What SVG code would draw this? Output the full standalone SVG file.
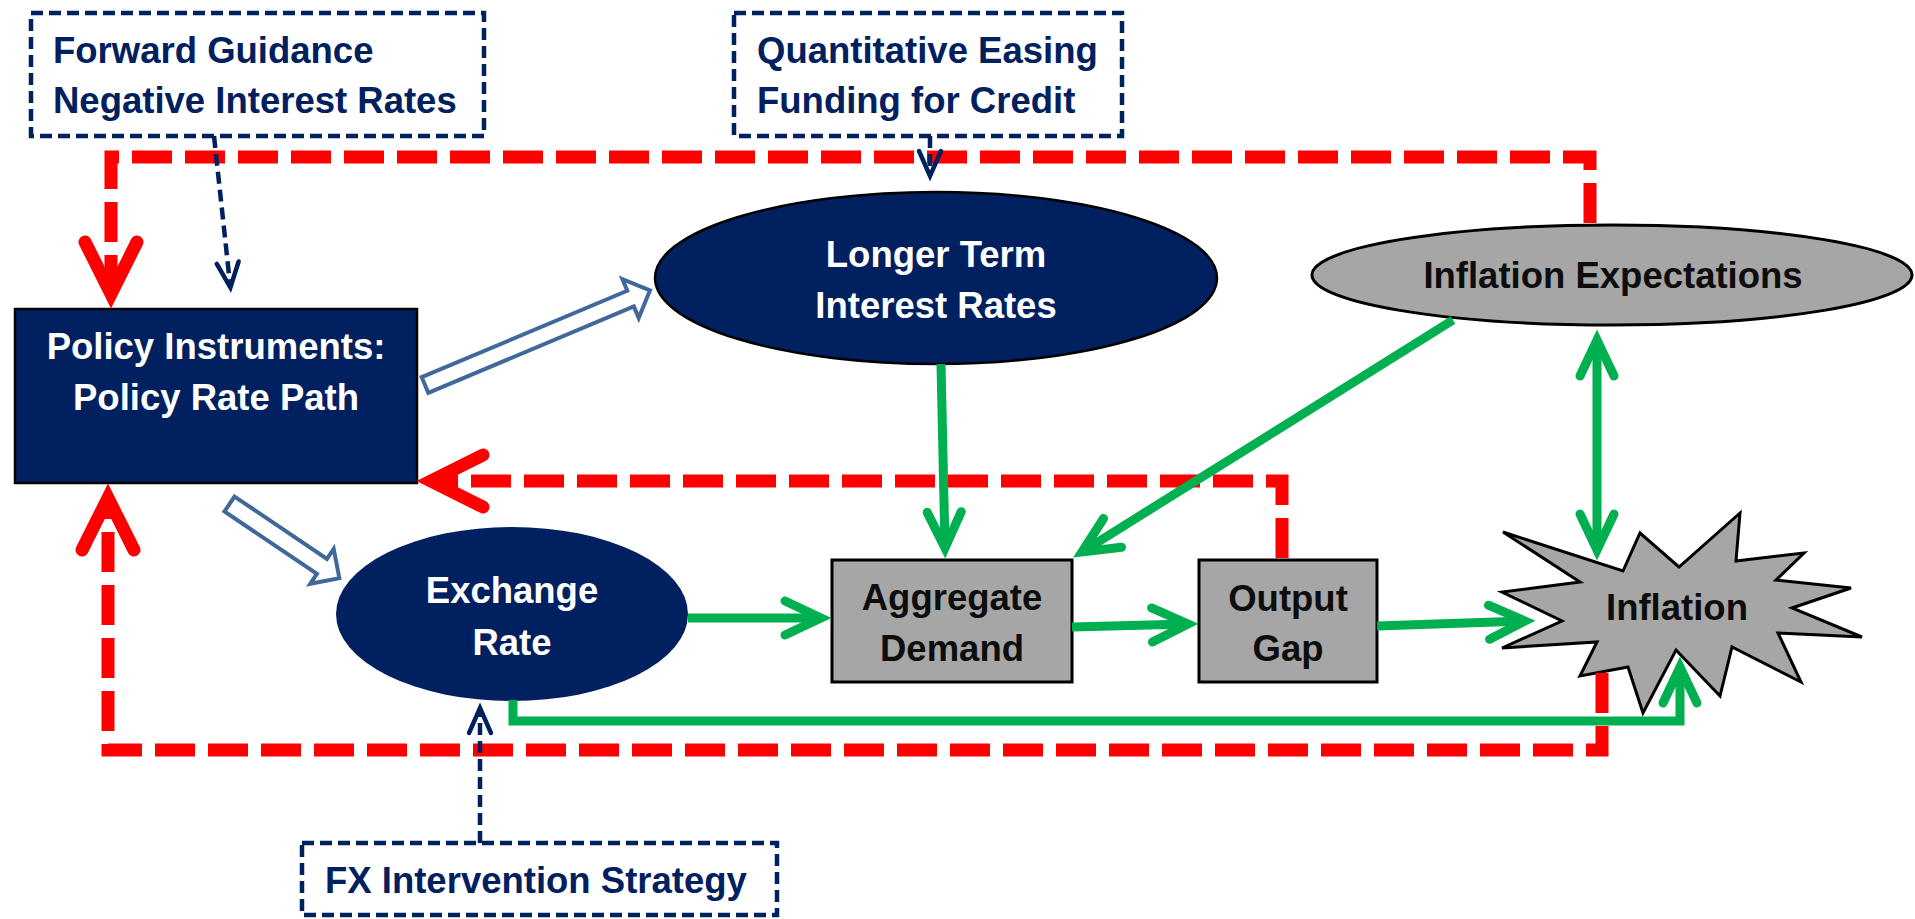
<svg xmlns="http://www.w3.org/2000/svg" width="1915" height="919" viewBox="0 0 1915 919">
  <style>
    .lbl { font-family: "Liberation Sans", Arial, sans-serif; font-weight: 700; font-size: 36.5px; }
    .navyTxt { fill: #002060; }
    .whiteTxt { fill: #ffffff; }
    .darkTxt { fill: #0d0d0d; }
    .mid { text-anchor: middle; }
    .dashBox { fill: #ffffff; stroke: #002060; stroke-width: 4.5; stroke-dasharray: 12 6; }
    .navyNode { fill: #002060; stroke: #000000; stroke-width: 2.5; }
    .grayNode { fill: #a6a6a6; stroke: #000000; stroke-width: 3; }
    .block { fill: #ffffff; stroke: #41689b; stroke-width: 4; stroke-linejoin: miter; }
    .red { fill: none; stroke: #ff0000; stroke-width: 13; stroke-dasharray: 40 13; stroke-linejoin: miter; }
    .green { fill: none; stroke: #00b050; stroke-width: 9; stroke-linejoin: miter; }
    .navyLine { fill: none; stroke: #002060; stroke-width: 4.5; stroke-dasharray: 12 6; }
  </style>
  <defs>
    <marker id="headRed" markerUnits="userSpaceOnUse" orient="auto" refX="0" refY="0" markerWidth="10" markerHeight="10" overflow="visible">
      <path d="M-52,-26 L0,0 L-52,26" fill="none" stroke="#ff0000" stroke-width="13" stroke-linecap="round" stroke-linejoin="miter" stroke-dasharray="none"/>
    </marker>
    <marker id="headGreen" markerUnits="userSpaceOnUse" orient="auto-start-reverse" refX="0" refY="0" markerWidth="10" markerHeight="10" overflow="visible">
      <path d="M-36,-17 L0,0 L-36,17" fill="none" stroke="#00b050" stroke-width="9" stroke-linecap="round" stroke-linejoin="miter"/>
    </marker>
    <marker id="headNavy" markerUnits="userSpaceOnUse" orient="auto" refX="0" refY="0" markerWidth="10" markerHeight="10" overflow="visible">
      <path d="M-25,-11 L0,0 L-25,11" fill="none" stroke="#002060" stroke-width="4.5" stroke-linecap="round" stroke-linejoin="miter" stroke-dasharray="none"/>
    </marker>
  </defs>

  <rect x="0" y="0" width="1915" height="919" fill="#ffffff"/>

  <!-- nodes -->
  <g id="forward-guidance">
    <rect class="dashBox" x="31" y="13" width="453" height="123"/>
    <text class="lbl navyTxt" x="53" y="63">Forward Guidance</text>
    <text class="lbl navyTxt" x="53" y="113">Negative Interest Rates</text>
  </g>
  <g id="quantitative-easing">
    <rect class="dashBox" x="734" y="13" width="388" height="123"/>
    <text class="lbl navyTxt" x="757" y="63">Quantitative Easing</text>
    <text class="lbl navyTxt" x="757" y="113">Funding for Credit</text>
  </g>
  <g id="fx-intervention">
    <rect class="dashBox" x="302" y="843" width="475" height="72"/>
    <text class="lbl navyTxt" x="325" y="893">FX Intervention Strategy</text>
  </g>
  <g id="policy-instruments">
    <rect class="navyNode" x="15" y="309" width="402" height="174"/>
    <text class="lbl whiteTxt mid" x="216" y="359">Policy Instruments:</text>
    <text class="lbl whiteTxt mid" x="216" y="410">Policy Rate Path</text>
  </g>
  <g id="longer-term-rates">
    <ellipse class="navyNode" cx="936" cy="278" rx="281" ry="86"/>
    <text class="lbl whiteTxt mid" x="936" y="267">Longer Term</text>
    <text class="lbl whiteTxt mid" x="936" y="318">Interest Rates</text>
  </g>
  <g id="inflation-expectations">
    <ellipse class="grayNode" cx="1612" cy="275" rx="300" ry="50" stroke-width="2.5"/>
    <text class="lbl darkTxt mid" x="1613" y="288">Inflation Expectations</text>
  </g>
  <g id="exchange-rate">
    <ellipse cx="512" cy="614" rx="176" ry="87" fill="#002060"/>
    <text class="lbl whiteTxt mid" x="512" y="603">Exchange</text>
    <text class="lbl whiteTxt mid" x="512" y="655">Rate</text>
  </g>
  <g id="aggregate-demand">
    <rect class="grayNode" x="832" y="560" width="240" height="122"/>
    <text class="lbl darkTxt mid" x="952" y="610">Aggregate</text>
    <text class="lbl darkTxt mid" x="952" y="661">Demand</text>
  </g>
  <g id="output-gap">
    <rect class="grayNode" x="1199" y="560" width="178" height="122"/>
    <text class="lbl darkTxt mid" x="1288" y="611">Output</text>
    <text class="lbl darkTxt mid" x="1288" y="661">Gap</text>
  </g>
  <g id="inflation">
    <polygon class="grayNode" points="1503,532 1623,571 1640,533 1679,567 1740,513 1736,561 1804,553 1776,580 1851,588 1792,608 1862,637 1778,633 1801,682 1732,647 1720,696 1676,650 1643,713 1628,667 1580,676 1597,642 1502,648 1562,621 1502,592 1580,582"/>
    <text class="lbl darkTxt mid" x="1677" y="620">Inflation</text>
  </g>

  <!-- connectors -->
  <g id="connectors">
    <!-- hollow transmission arrows from the policy box -->
    <polygon class="block" transform="translate(425,385) rotate(-22.8)" points="0,-8.5 223,-8.5 223,-21 244,0 223,21 223,8.5 0,8.5"/>
    <polygon class="block" transform="translate(229.5,504) rotate(34)" points="0,-9 111.5,-9 111.5,-21 132.5,0 111.5,21 111.5,9 0,9"/>

    <!-- red feedback loops -->
    <path class="red" d="M1590,223 V157 H111 V294" marker-end="url(#headRed)"/>
    <path class="red" d="M1602,673 V750 H108 V498" marker-end="url(#headRed)"/>
    <path class="red" d="M1282,558 V481 H431" marker-end="url(#headRed)"/>

    <!-- green transmission channels -->
    <path class="green" d="M688,618 H821" marker-end="url(#headGreen)"/>
    <path class="green" d="M1072,627 L1188,624" marker-end="url(#headGreen)"/>
    <path class="green" d="M1377,626 L1525,621" marker-end="url(#headGreen)"/>
    <path class="green" d="M941,364 L945,548" marker-end="url(#headGreen)"/>
    <path class="green" d="M1453,320 L1082,552" marker-end="url(#headGreen)"/>
    <path class="green" d="M1597,340 V550" marker-start="url(#headGreen)" marker-end="url(#headGreen)"/>
    <path class="green" d="M513,700 V721 H1680 V667" marker-end="url(#headGreen)"/>

    <!-- dashed tool links -->
    <path class="navyLine" d="M214,136 L230.4,287.5" marker-end="url(#headNavy)"/>
    <path class="navyLine" d="M930,136 V176" marker-end="url(#headNavy)"/>
    <path class="navyLine" d="M480,843 V708" marker-end="url(#headNavy)"/>
  </g>
</svg>
